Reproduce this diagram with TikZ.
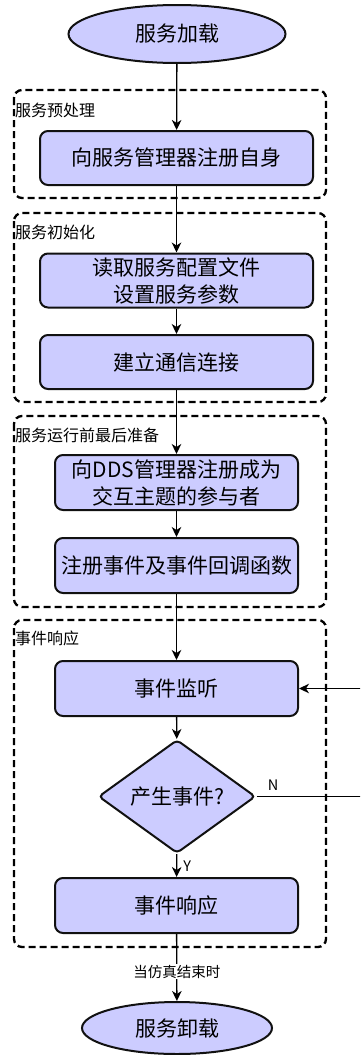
\documentclass[tikz,border=0pt]{standalone}
\usepackage{fontspec}
\setmainfont{Noto Sans CJK SC}
\usetikzlibrary{shapes.geometric,arrows.meta}
\definecolor{lav}{HTML}{CCCCFF}
\definecolor{edge}{HTML}{111111}
\begin{document}
\begin{tikzpicture}[x=1pt,y=-1pt,
  box/.style={draw=edge, line width=2pt, fill=lav, rounded corners=8pt,
    minimum width=273pt, minimum height=54pt, inner sep=0pt, align=center,
    font=\fontsize{21}{27}\selectfont},
  boxn/.style={box, minimum width=243pt, minimum height=55pt},
  term/.style={draw=edge, line width=2pt, fill=lav, ellipse, inner sep=0pt,
    font=\fontsize{21}{27}\selectfont},
  dec/.style={draw=edge, line width=2pt, fill=lav, diamond, inner sep=0pt,
    rounded corners=4pt, minimum width=157pt, minimum height=103pt,
    font=\fontsize{21}{27}\selectfont},
  grp/.style={draw=black, line width=2.3pt, dash pattern=on 7pt off 4pt, rounded corners=8pt},
  glabel/.style={anchor=west, inner sep=0pt, font=\fontsize{16}{19}\selectfont},
  small/.style={inner sep=1pt, font=\fontsize{14.5}{17}\selectfont},
  arr/.style={draw=black, line width=1.3pt, -{Stealth[length=10pt,width=9.5pt,inset=3pt]}},
  ln/.style={draw=black, line width=1.3pt}]
\clip (0,0) rectangle (360,1055);
\useasboundingbox (0,0) rectangle (360,1055);
\fill[white] (0,0) rectangle (360,1055);

% groups
\draw[grp] (14,90) rectangle (326,198);
\draw[grp] (14,213) rectangle (326,402);
\draw[grp] (14,416) rectangle (326,607);
\draw[grp] (14,620) rectangle (326,947);
\node[glabel] (g1) at (15,110) {服务预处理};
\node[glabel] (g2) at (15,232) {服务初始化};
\node[glabel] (g3) at (15,435) {服务运行前最后准备};
\node[glabel] (g4) at (15,638) {事件响应};

% nodes
\node[term, minimum width=217pt, minimum height=58pt] (start) at (177,34) {服务加载};
\node[box] (b1) at (176.5,158) {向服务管理器注册自身};
\node[box] (b2) at (176.5,280.5) {读取服务配置文件\\设置服务参数};
\node[box] (b3) at (176.5,362) {建立通信连接};
\node[boxn] (b4) at (176.5,482.5) {向DDS管理器注册成为\\交互主题的参与者};
\node[boxn] (b5) at (176.5,565.5) {注册事件及事件回调函数};
\node[boxn] (b6) at (176.5,688.5) {事件监听};
\node[dec] (d) at (177,796.5) {产生事件?};
\node[boxn] (b7) at (176.5,905.5) {事件响应};
\node[term, minimum width=190pt, minimum height=52pt] (stop) at (177,1028) {服务卸载};

\coordinate (lp1) at (372,796.5);
\coordinate (lp2) at (372,688.5);

% connectors
\draw[arr] (start) -- (b1);
\draw[arr] (b1) -- (b2);
\draw[arr] (b2) -- (b3);
\draw[arr] (b3) -- (b4);
\draw[arr] (b4) -- (b5);
\draw[arr] (b5) -- (b6);
\draw[arr] (b6) -- (d);
\draw[arr] (d) -- node[small, right, xshift=5pt, yshift=-1pt] (ylab) {Y} (b7);
\draw[arr] (b7) -- node[small, fill=white, pos=0.56] (endlab) {当仿真结束时} (stop);
\draw[arr] (d.east) -- (lp1) -- (lp2) -- (b6.east);
\node[small] (nlab) at (273,785) {N};
\end{tikzpicture}
\end{document}
